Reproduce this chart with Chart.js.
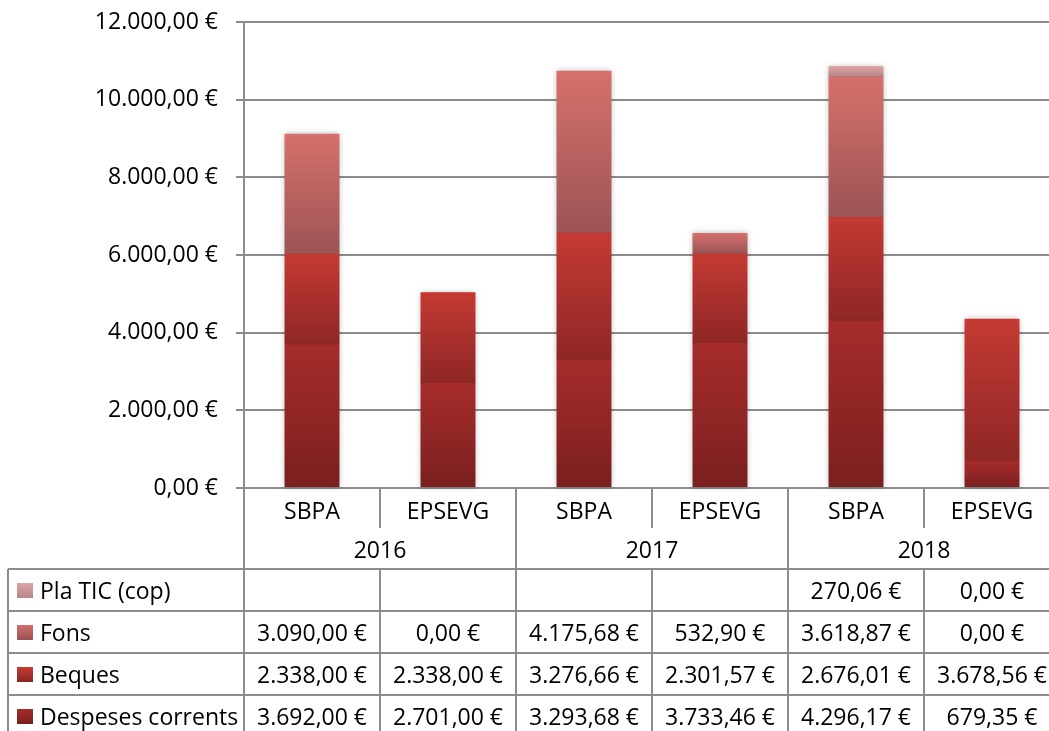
<!DOCTYPE html>
<html>
<head>
<meta charset="utf-8">
<script src="https://cdn.jsdelivr.net/npm/chart.js@4.4.1/dist/chart.umd.min.js"></script>
<style>
html, body { margin: 0; padding: 0; overflow: hidden; background: #fff; }
#wrap { width: 1060px; height: 731px; position: relative; }
</style>
</head>
<body>
<div id="wrap"><canvas id="chart"></canvas></div>
<script>
let centres = ["SBPA", "EPSEVG", "SBPA", "EPSEVG", "SBPA", "EPSEVG"]
let years = ["2016", "2017", "2018"]
let despeses = [3692.00, 2701.00, 3293.68, 3733.46, 4296.17, 679.35]
let beques = [2338.00, 2338.00, 3276.66, 2301.57, 2676.01, 3678.56]
let fons = [3090.00, 0.00, 4175.68, 532.90, 3618.87, 0.00]
let plaTic = [null, null, null, null, 270.06, 0.00]
let yTicks = [0, 2000, 4000, 6000, 8000, 10000, 12000]

let font = "Open Sans"
let fontSize = 23
let lineCol = "#8c8c8c"

function euro(v) {
    let [ent, dec] = Number(v).toFixed(2).split(".")
    ent = ent.replace(/\B(?=(\d{3})+(?!\d))/g, ".")
    return ent + "," + dec + " €"
}

// each stacked segment gets its own top-to-bottom gradient
function segmentFill(top, bottom) {
    return (c) => {
        let chart = c.chart
        let y = chart.scales.y
        if (!y || c.type !== "data") return bottom
        let below = 0
        for (let d = 0; d < c.datasetIndex; d++) below += chart.data.datasets[d].data[c.dataIndex] || 0
        let y0 = y.getPixelForValue(below + (c.raw || 0))
        let y1 = y.getPixelForValue(below)
        if (!(y1 - y0 > 0)) return bottom
        let g = chart.ctx.createLinearGradient(0, y0, 0, y1)
        g.addColorStop(0, top)
        g.addColorStop(1, bottom)
        return g
    }
}

let series = [
    {label: "Despeses corrents", data: despeses, top: "#a62c2b", bottom: "#7a1f1f"},
    {label: "Beques", data: beques, top: "#c43a33", bottom: "#8e2626"},
    {label: "Fons", data: fons, top: "#d5706c", bottom: "#9c5454"},
    {label: "Pla TIC (cop)", data: plaTic, top: "#dea3a3", bottom: "#b88888"}
]

// soft shadow behind each full stack
const stackShadow = {
    id: "stackShadow",
    beforeDatasetsDraw(chart) {
        let ctx = chart.ctx
        ctx.save()
        ctx.shadowColor = "rgba(0,0,0,0.28)"
        ctx.shadowBlur = 6
        ctx.fillStyle = "#9a2a28"
        for (let i = 0; i < centres.length; i++) {
            let top = Infinity, base = 0, x = 0, w = 0
            chart.data.datasets.forEach((ds, d) => {
                let el = chart.getDatasetMeta(d).data[i]
                if (!el || ds.data[i] == null) return
                top = Math.min(top, el.y)
                base = Math.max(base, el.base)
                x = el.x
                w = el.width
            })
            if (top < base) ctx.fillRect(x - w / 2 + 0.5, top + 0.5, w - 1, base - top - 1)
        }
        ctx.restore()
    }
}

// data table under the plot, columns taken from the x scale
const dataTable = {
    id: "dataTable",
    afterDraw(chart) {
        let ctx = chart.ctx
        let x = chart.scales.x
        let step = x.getPixelForValue(1) - x.getPixelForValue(0)
        let edge = i => x.getPixelForValue(i) - step / 2
        let axisY = chart.chartArea.bottom
        let rowTops = [569, 611, 653, 695]
        let rowH = 42
        let bottom = chart.height
        let right = edge(centres.length)

        ctx.save()
        ctx.strokeStyle = lineCol
        ctx.lineWidth = 2
        ctx.beginPath()
        for (let i = 0; i <= centres.length; i++) {
            let ex = Math.round(edge(i))
            if (i % 2 == 0) {
                ctx.moveTo(ex, axisY); ctx.lineTo(ex, bottom)
            } else {
                ctx.moveTo(ex, axisY); ctx.lineTo(ex, axisY + 40)
                ctx.moveTo(ex, rowTops[0]); ctx.lineTo(ex, bottom)
            }
        }
        for (let t of rowTops) {
            ctx.moveTo(8, t); ctx.lineTo(right, t)
        }
        ctx.moveTo(8, rowTops[0]); ctx.lineTo(8, bottom)
        ctx.stroke()

        ctx.fillStyle = "#000"
        ctx.font = fontSize + "px '" + font + "'"
        ctx.textAlign = "center"
        ctx.textBaseline = "middle"
        centres.forEach((c, i) => ctx.fillText(c, x.getPixelForValue(i), axisY + 24))
        years.forEach((yr, j) => ctx.fillText(yr, edge(2 * j + 1), axisY + 63))

        // rows listed top to bottom: last series first
        let rows = series.slice().reverse()
        rows.forEach((s, r) => {
            let cy = rowTops[r] + rowH / 2
            let g = ctx.createLinearGradient(0, cy - 7, 0, cy + 7)
            g.addColorStop(0, s.top)
            g.addColorStop(1, s.bottom)
            ctx.fillStyle = g
            ctx.fillRect(17, cy - 7, 16, 15)
            ctx.fillStyle = "#000"
            ctx.textAlign = "left"
            ctx.fillText(s.label, 40, cy + 2)
            ctx.textAlign = "center"
            s.data.forEach((v, i) => {
                if (v == null) return
                ctx.fillText(euro(v), x.getPixelForValue(i), cy + 2)
            })
        })
        ctx.restore()
    }
}

new Chart(document.getElementById("chart"), {
    type: "bar",
    data: {
        labels: centres,
        datasets: series.map(s => ({
            label: s.label,
            data: s.data,
            backgroundColor: segmentFill(s.top, s.bottom),
            borderWidth: 0,
            categoryPercentage: 1,
            barPercentage: 0.404
        }))
    },
    options: {
        animation: false,
        responsive: true,
        maintainAspectRatio: false,
        layout: {padding: {top: 22, bottom: 243, left: 0, right: 0}},
        plugins: {legend: {display: false}, tooltip: {enabled: false}},
        scales: {
            x: {display: false, stacked: true},
            y: {
                stacked: true,
                min: 0,
                max: 12000,
                afterFit: s => { s.width = 244; s.paddingTop = 0; s.paddingBottom = 0 },
                afterBuildTicks: s => { s.ticks = yTicks.map(v => ({value: v})) },
                ticks: {
                    callback: v => euro(v),
                    padding: 18,
                    color: "#000",
                    font: {family: font, size: fontSize}
                },
                grid: {color: lineCol, lineWidth: 2, tickLength: 8},
                border: {color: lineCol, width: 2}
            }
        }
    },
    plugins: [stackShadow, dataTable]
})
</script>
</body>
</html>
